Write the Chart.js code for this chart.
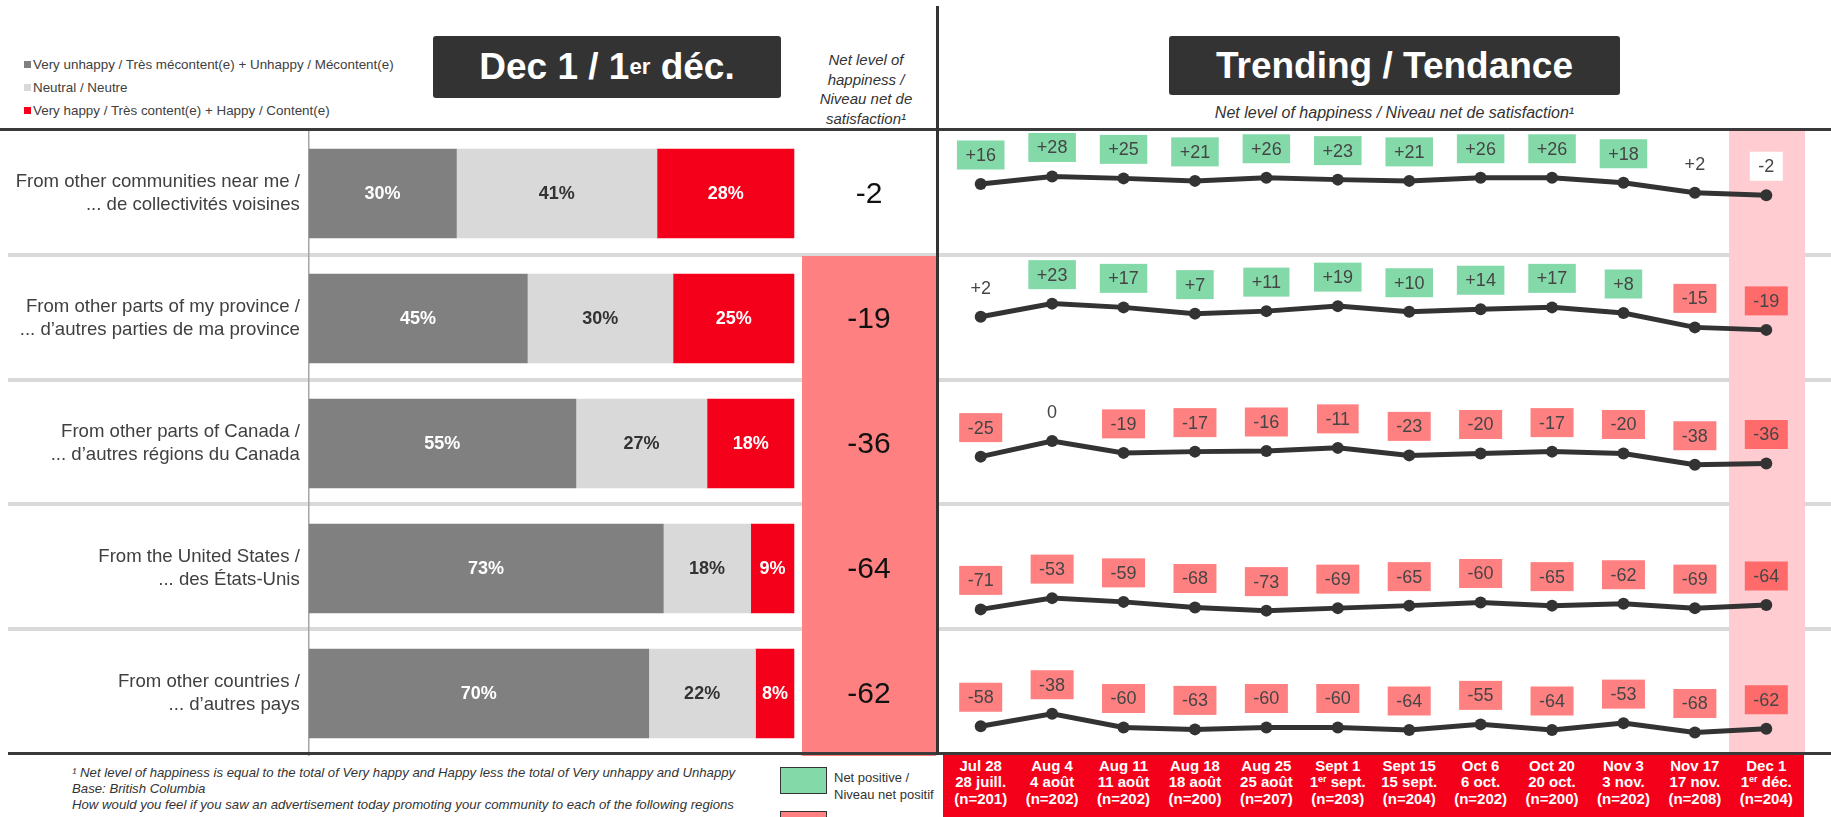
<!DOCTYPE html>
<html><head><meta charset="utf-8">
<script src="https://cdn.jsdelivr.net/npm/chart.js@4.4.1/dist/chart.umd.min.js"></script>
<style>
html,body{margin:0;padding:0;background:#fff;}
body{width:1831px;height:817px;position:relative;overflow:hidden;font-family:"Liberation Sans",Arial,sans-serif;color:#404040;}
.abs{position:absolute;}
canvas{position:absolute;}
.sq{position:absolute;width:7px;height:7px;}
.leg{position:absolute;left:33px;font-size:13.4px;line-height:20px;height:20px;white-space:nowrap;color:#404040;}
.title{position:absolute;background:#333;color:#fff;font-weight:bold;border-radius:3px;display:flex;align-items:center;justify-content:center;white-space:nowrap;}
.sup{font-size:0.6em;vertical-align:0.6em;line-height:0;}
.date{position:absolute;top:758px;width:72px;margin-left:-36px;text-align:center;color:#fff;font-weight:bold;font-size:15px;line-height:16.3px;white-space:nowrap;}
</style></head><body>

<!-- background structure -->
<div class="abs" style="left:8px;top:253px;width:1823px;height:4px;background:#D9D9D9"></div>
<div class="abs" style="left:8px;top:378px;width:1823px;height:4px;background:#D9D9D9"></div>
<div class="abs" style="left:8px;top:502px;width:1823px;height:4px;background:#D9D9D9"></div>
<div class="abs" style="left:8px;top:627px;width:1823px;height:4px;background:#D9D9D9"></div>
<div class="abs" style="left:1729px;top:131px;width:76px;height:621px;background:#FFCCD1"></div>

<!-- top-left legend -->
<div class="sq" style="left:24px;top:61px;background:#808080"></div>
<div class="leg" style="top:55px">Very unhappy / Très mécontent(e) + Unhappy / Mécontent(e)</div>
<div class="sq" style="left:24px;top:84px;background:#D9D9D9"></div>
<div class="leg" style="top:78px">Neutral / Neutre</div>
<div class="sq" style="left:24px;top:107px;background:#F5001A"></div>
<div class="leg" style="top:101px">Very happy / Très content(e) + Happy / Content(e)</div>

<div class="title" style="left:433px;top:36px;width:348px;height:62px;font-size:37px;">Dec 1 / 1<span class="sup">er</span>&nbsp;déc.</div>
<div class="abs" style="left:796px;top:50px;width:140px;text-align:center;font-style:italic;font-size:15px;line-height:19.7px;color:#333">Net level of<br>happiness /<br>Niveau net de<br>satisfaction¹</div>

<div class="title" style="left:1169px;top:36px;width:451px;height:59px;font-size:37px;">Trending / Tendance</div>
<div class="abs" style="left:1169px;top:103px;width:451px;text-align:center;font-style:italic;font-size:16px;line-height:20px;color:#333;white-space:nowrap">Net level of happiness / Niveau net de satisfaction¹</div>

<canvas id="bars" width="936" height="625" style="left:0;top:131px;width:936px;height:625px"></canvas>
<div id="trend"></div>

<!-- lines on top -->
<div class="abs" style="left:0;top:128px;width:1831px;height:3px;background:#3a3a3a"></div>
<div class="abs" style="left:8px;top:752px;width:1823px;height:3px;background:#3a3a3a"></div>
<div class="abs" style="left:936px;top:6px;width:3px;height:749px;background:#333"></div>

<!-- date box -->
<div class="abs" style="left:943px;top:755px;width:861px;height:62px;background:#F5001A"></div>
<div id="dates"></div>

<!-- footnotes -->
<div class="abs" style="left:72px;top:765px;font-style:italic;font-size:13.2px;line-height:16px;color:#333;white-space:nowrap">¹ Net level of happiness is equal to the total of Very happy and Happy less the total of Very unhappy and Unhappy<br>Base: British Columbia<br>How would you feel if you saw an advertisement today promoting your community to each of the following regions</div>

<!-- bottom legend -->
<div class="abs" style="left:780px;top:767px;width:45px;height:25px;background:#84D9A9;border:1.5px solid #333"></div>
<div class="abs" style="left:834px;top:770px;font-size:13px;line-height:16.5px;color:#333;white-space:nowrap">Net positive /<br>Niveau net positif</div>
<div class="abs" style="left:780px;top:811px;width:45px;height:25px;background:#FF8080;border:1.5px solid #333"></div>

<script>
// ---------------- data ----------------
const regions = [
  ["From other communities near me /", "... de collectivités voisines"],
  ["From other parts of my province /", "... d’autres parties de ma province"],
  ["From other parts of Canada /", "... d’autres régions du Canada"],
  ["From the United States /", "... des États-Unis"],
  ["From other countries /", "... d’autres pays"]
];
const unhappyDec1 = [30.4, 45, 55, 73, 70];
const neutralDec1 = [41.3, 30, 27, 18, 22];
const happyDec1   = [28.3, 25, 18, 9, 8];
const netDec1     = [-2, -19, -36, -64, -62];

const dateEn  = ["Jul 28","Aug 4","Aug 11","Aug 18","Aug 25","Sept 1","Sept 15","Oct 6","Oct 20","Nov 3","Nov 17","Dec 1"];
const dateFr  = ["28 juill.","4 août","11 août","18 août","25 août","1er sept.","15 sept.","6 oct.","20 oct.","3 nov.","17 nov.","1er déc."];
const sampleN = [201,202,202,200,207,203,204,202,200,202,208,204];

const trendNear     = [16, 28, 25, 21, 26, 23, 21, 26, 26, 18, 2, -2];
const trendProvince = [2, 23, 17, 7, 11, 19, 10, 14, 17, 8, -15, -19];
const trendCanada   = [-25, 0, -19, -17, -16, -11, -23, -20, -17, -20, -38, -36];
const trendUS       = [-71, -53, -59, -68, -73, -69, -65, -60, -65, -62, -69, -64];
const trendOther    = [-58, -38, -60, -63, -60, -60, -64, -55, -64, -53, -68, -62];

// ---------------- styling / layout ----------------
const FONT = '"Liberation Sans", Arial, sans-serif';
const C_UNHAPPY = '#808080', C_NEUTRAL = '#D9D9D9', C_HAPPY = '#F5001A';
const C_POS = '#84D9A9', C_NEG = '#FF8080', C_NEG_LAST = '#FF6B6B';

const barLabels = {
  id: 'barLabels',
  afterDatasetsDraw(chart) {
    const ctx = chart.ctx;
    chart.data.datasets.forEach((ds, di) => {
      chart.getDatasetMeta(di).data.forEach((bar, i) => {
        const p = bar.getProps(['x', 'y', 'base'], true);
        ctx.save();
        ctx.font = 'bold 18px ' + FONT;
        ctx.fillStyle = ds.labelColor;
        ctx.textAlign = 'center';
        ctx.textBaseline = 'middle';
        ctx.fillText(Math.round(ds.data[i]) + '%', (p.x + p.base) / 2, p.y + 1);
        ctx.restore();
      });
    });
  }
};

const netColumn = {
  id: 'netColumn',
  afterDatasetsDraw(chart) {
    const ctx = chart.ctx, ys = chart.scales.y;
    const half = (ys.getPixelForValue(1) - ys.getPixelForValue(0)) / 2;
    netDec1.forEach((v, i) => {
      const cy = ys.getPixelForValue(i);
      ctx.save();
      if (v <= -5) {
        ctx.fillStyle = C_NEG;
        ctx.fillRect(802, cy - half, 134, half * 2);
      }
      ctx.fillStyle = '#111';
      ctx.font = '30px ' + FONT;
      ctx.textAlign = 'center';
      ctx.textBaseline = 'middle';
      ctx.fillText(String(v), 869, cy + 1);
      ctx.restore();
    });
  }
};

new Chart(document.getElementById('bars'), {
  type: 'bar',
  data: {
    labels: regions,
    datasets: [
      { data: unhappyDec1, backgroundColor: C_UNHAPPY, labelColor: '#fff' },
      { data: neutralDec1, backgroundColor: C_NEUTRAL, labelColor: '#333' },
      { data: happyDec1,   backgroundColor: C_HAPPY,   labelColor: '#fff' }
    ]
  },
  options: {
    indexAxis: 'y',
    responsive: false,
    animation: false,
    devicePixelRatio: 1,
    events: [],
    barThickness: 89,
    layout: { autoPadding: false, padding: { left: 0, top: 0, bottom: 0, right: 141.6 } },
    plugins: { legend: { display: false }, tooltip: { enabled: false } },
    scales: {
      x: { stacked: true, min: 0, max: 100, display: false },
      y: {
        stacked: true,
        grid: { display: false, drawTicks: false },
        border: { display: true, color: '#A6A6A6', width: 1.5 },
        ticks: { color: '#404040', font: { family: FONT, size: 18.6, lineHeight: 1.2 }, padding: 9 },
        afterFit(axis) { axis.width = 308.8; axis.paddingTop = 0; axis.paddingBottom = 0; }
      }
    }
  },
  plugins: [barLabels, netColumn]
});

// ---------------- trend rows ----------------
const fmt = v => (v > 0 ? '+' + v : String(v));
const trendLabels = {
  id: 'trendLabels',
  afterDatasetsDraw(chart) {
    const ctx = chart.ctx;
    const ds = chart.data.datasets[0];
    const n = ds.data.length;
    chart.getDatasetMeta(0).data.forEach((pt, i) => {
      const v = ds.data[i];
      const t = fmt(v);
      ctx.save();
      ctx.font = '18px ' + FONT;
      const w = ctx.measureText(t).width + 17, h = 29;
      const cx = pt.x, cy = pt.y - 29;
      ctx.fillStyle = v >= 5 ? C_POS : (v <= -5 ? (i === n - 1 ? C_NEG_LAST : C_NEG) : '#fff');
      ctx.fillRect(cx - w / 2, cy - h / 2, w, h);
      ctx.fillStyle = '#454545';
      ctx.textAlign = 'center';
      ctx.textBaseline = 'middle';
      ctx.fillText(t, cx, cy + 1);
      ctx.restore();
    });
  }
};

const trendRows = [trendNear, trendProvince, trendCanada, trendUS, trendOther];
const rowZeroY = [194, 318, 441, 565, 690];
const pxPerUnit = 0.625, above = 95, below = 70;
const host = document.getElementById('trend');
let firstChart = null;
trendRows.forEach((vals, r) => {
  const c = document.createElement('canvas');
  c.width = 857; c.height = above + below;
  c.style.left = '945px'; c.style.top = (rowZeroY[r] - above) + 'px';
  c.style.width = '857px'; c.style.height = (above + below) + 'px';
  host.appendChild(c);
  const ch = new Chart(c, {
    type: 'line',
    data: { labels: dateEn, datasets: [{ data: vals, borderColor: '#333', borderWidth: 5, pointRadius: 6, pointBackgroundColor: '#333', pointBorderWidth: 0, tension: 0 }] },
    options: {
      responsive: false, animation: false, devicePixelRatio: 1, events: [],
      layout: { autoPadding: false, padding: 0 },
      plugins: { legend: { display: false }, tooltip: { enabled: false } },
      scales: {
        x: { type: 'category', offset: true, display: false },
        y: { display: false, min: -below / pxPerUnit, max: above / pxPerUnit }
      }
    },
    plugins: [trendLabels]
  });
  if (!firstChart) firstChart = ch;
});

// ---------------- date labels ----------------
const datesHost = document.getElementById('dates');
const supify = s => s.replace(/^1er/, '1<span class="sup">er</span>');
dateEn.forEach((d, i) => {
  const x = 945 + firstChart.scales.x.getPixelForValue(i);
  const el = document.createElement('div');
  el.className = 'date';
  el.style.left = x + 'px';
  el.innerHTML = d + '<br>' + supify(dateFr[i]) + '<br>(n=' + sampleN[i] + ')';
  datesHost.appendChild(el);
});
</script>
</body></html>
